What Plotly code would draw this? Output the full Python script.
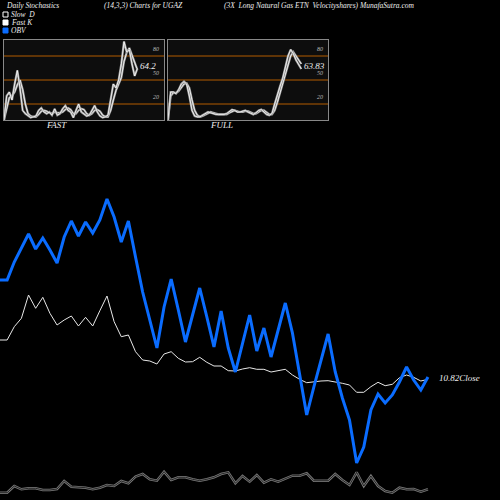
import plotly.graph_objects as go

obv = [220,220,238,252,266,251,262,250,237,263,279,264,278,267,280,301,283,258,279,243,208,180,152,193,221,190,158,185,212,183,153,189,152,128,158,185,149,172,143,170,197,167,127,85,113,140,166,128,102,80,37,53,90,106,97,105,118,133,120,110,123]
price = [160,160,173.3,181.7,205,191.7,202.7,186.7,175,180,184,174,182.7,174,189.3,204,178.3,163.3,165,148.3,140,139,136,146,148.3,141.7,138,138.3,142.7,137.7,134,134,129.3,129,131,132.3,130.7,130.7,128,129,130.7,125,120.7,117.3,118.3,119,119.3,118.3,116.7,115,107.7,107.7,113.3,117.7,114.3,115.7,122.3,125,122.7,119,120.7]
volume = [7.3,7.3,14,10.7,11.7,11.7,10,10,11,19,13.3,13,12.3,10.7,12.3,15,14,19,16.7,23.3,26,20.7,19.3,28.3,20,22.7,22.7,20.7,19.3,20.7,22.7,26,27.7,16.7,24,18.3,25,17.3,20.7,18.3,21.7,24.3,24.3,26.7,19.3,19.3,19.3,26,20,15,27.7,14,24,14,9,7.3,12.3,10.7,11,8.3,10.7]
fast_k = [0,30,35,25,45,62,40,12,8,5,3,4,5,12,15,10,8,10,6,14,6,8,14,18,12,10,3,12,20,10,8,5,6,12,18,10,5,3,4,6,25,45,40,50,70,98,85,88,70,55,64.2]
fast_d = [0,15,28,30,35,44,50,38,20,8,5,4,4,7,11,12,11,9,8,10,9,9,10,13,15,13,8,8,12,14,13,8,6,8,12,13,11,6,4,4,12,25,37,45,53,73,84,90,81,71,63]
full_k = [0,35,35,33,38,45,48,45,30,12,5,4,4,6,9,10,9,8,7,7,7,7,8,11,13,12,10,10,11,12,10,8,7,9,12,13,10,7,6,8,20,32,42,52,65,80,88,83,75,70,63.83]
full_d = [0,30,34,34,36,40,45,46,40,25,12,6,4,5,7,9,10,9,8,7,7,7,7,9,11,12,11,10,10,11,11,9,8,8,10,12,12,9,7,7,12,22,33,44,55,68,80,85,80,74,70]
levels = [20, 50, 80]

fig = go.Figure()
x = list(range(len(obv)))
fig.add_trace(go.Scatter(x=x, y=volume, mode="lines", line=dict(color="#777", width=2.5), xaxis="x", yaxis="y"))
fig.add_trace(go.Scatter(x=x, y=volume, mode="lines", line=dict(color="#111", width=0.8), xaxis="x", yaxis="y"))
fig.add_trace(go.Scatter(x=x, y=price, mode="lines", line=dict(color="#e8e8e8", width=1), xaxis="x", yaxis="y"))
fig.add_trace(go.Scatter(x=x, y=obv, mode="lines", line=dict(color="#0a6cff", width=3), xaxis="x", yaxis="y"))

for ser, ax, ay in [(fast_d, "x2", "y2"), (fast_k, "x2", "y2"), (full_d, "x3", "y3"), (full_k, "x3", "y3")]:
    xs = list(range(len(ser)))
    fig.add_trace(go.Scatter(x=xs, y=ser, mode="lines", line=dict(color="#999", width=2.2), xaxis=ax, yaxis=ay))
    fig.add_trace(go.Scatter(x=xs, y=ser, mode="lines", line=dict(color="#fff", width=0.8), xaxis=ax, yaxis=ay))

ann = []
def t(xp, yp, s, size=7.5, color="#eee"):
    ann.append(dict(x=xp/500, y=1-yp/500, xref="paper", yref="paper", text="<i>"+s+"</i>", showarrow=False,
                    xanchor="left", yanchor="middle", font=dict(family="Liberation Serif", size=size, color=color)))
t(4, 5, "Daily Stochastics")
t(102, 5, "(14,3,3) Charts for UGAZ")
t(222, 5, "(3X  Long Natural Gas ETN  Velocityshares) MunafaSutra.com")
t(9, 14.5, "Slow  D", 7.5)
t(9, 22.5, "Fast K", 7.5)
t(9, 30.5, "OBV", 7.5)
t(44, 125, "FAST", 9)
t(208, 125, "FULL", 9)
t(138, 66, "64.2", 9)
t(302, 66, "63.83", 9)
t(437, 378, "10.82Close", 9)
for lvl in levels:
    for ax, ay in [("x2", "y2"), ("x3", "y3")]:
        ann.append(dict(x=57, y=lvl+9, xref=ax, yref=ay, text="<i>%d</i>" % lvl, showarrow=False,
                        font=dict(family="Liberation Serif", size=6, color="#bbb")))

shapes = []
for yp, fc in zip([14.5, 22.5, 30.5], ["#000", "#fff", "#0a6cff"]):
    shapes.append(dict(type="rect", xref="paper", yref="paper", x0=3/500, x1=8/500, y0=1-(yp+2.5)/500, y1=1-(yp-2.5)/500,
                       fillcolor=fc, line=dict(color="#fff" if fc != "#0a6cff" else "#0a6cff", width=1)))
for ax, ay in [("x2", "y2"), ("x3", "y3")]:
    shapes.append(dict(type="rect", xref=ax+" domain", yref=ay+" domain", x0=0, x1=1, y0=0, y1=1, fillcolor="#0d0d0d", line=dict(width=0), layer="below"))
    for lvl in levels:
        shapes.append(dict(type="line", xref=ax+" domain", yref=ay, x0=0, x1=1, y0=lvl, y1=lvl, line=dict(color="#b35c00", width=1), layer="below"))

ax_common = dict(showgrid=False, zeroline=False, showticklabels=False, fixedrange=True)
fig.update_layout(
    width=500, height=500, margin=dict(l=0, r=0, t=0, b=0), showlegend=False,
    paper_bgcolor="#000", plot_bgcolor="#000", annotations=ann, shapes=shapes,
    xaxis=dict(domain=[0, 1], range=[0, 70.1], **ax_common),
    yaxis=dict(domain=[0, 0.62], range=[0, 310], **ax_common),
    xaxis2=dict(domain=[4/500, 164/500], range=[0, 60], anchor="y2", showline=True, mirror=True, linecolor="#888", **ax_common),
    yaxis2=dict(domain=[380/500, 460/500], range=[0, 100], anchor="x2", showline=True, mirror=True, linecolor="#888", **ax_common),
    xaxis3=dict(domain=[168/500, 328/500], range=[0, 60], anchor="y3", showline=True, mirror=True, linecolor="#888", **ax_common),
    yaxis3=dict(domain=[380/500, 460/500], range=[0, 100], anchor="x3", showline=True, mirror=True, linecolor="#888", **ax_common),
)
fig.write_html("out.html", config={"displayModeBar": False},
               post_script="document.body.style.margin='0';document.body.style.background='#000';")
